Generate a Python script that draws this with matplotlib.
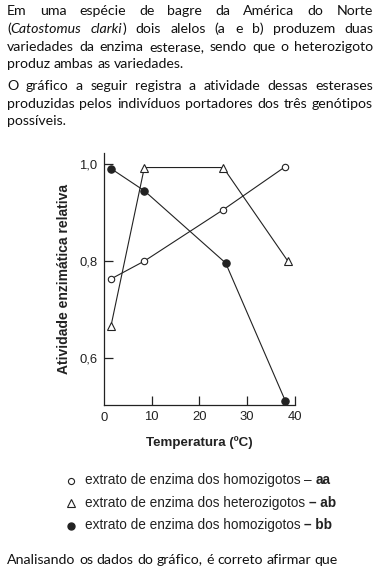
import matplotlib
matplotlib.use("Agg")
import matplotlib.pyplot as plt
from matplotlib.ticker import FixedLocator, FuncFormatter

# ---------------------------------------------------------------------------
# Dados
# ---------------------------------------------------------------------------
temp_aa = [1.5, 8.5, 25.0, 38.0]
ativ_aa = [0.763, 0.800, 0.906, 0.995]

temp_ab = [1.5, 8.5, 25.0, 38.5]
ativ_ab = [0.665, 0.993, 0.993, 0.800]

temp_bb = [1.5, 8.5, 25.5, 38.0]
ativ_bb = [0.991, 0.945, 0.796, 0.511]

x_ticks = [10, 20, 30, 40]
y_ticks = [0.6, 0.8, 1.0]

paragrafo_1 = [
    [("Em", "normal"), ("uma", "normal"), ("espécie", "normal"), ("de", "normal"),
     ("bagre", "normal"), ("da", "normal"), ("América", "normal"), ("do", "normal"),
     ("Norte", "normal")],
    [("(", "normal", ("Catostomus", "italic")), ("clarki", "italic", (")", "normal")),
     ("dois", "normal"), ("alelos", "normal"), ("(a", "normal"), ("e", "normal"),
     ("b)", "normal"), ("produzem", "normal"), ("duas", "normal")],
    [("variedades", "normal"), ("da", "normal"), ("enzima", "normal"), ("esterase,", "normal"),
     ("sendo", "normal"), ("que", "normal"), ("o", "normal"), ("heterozigoto", "normal")],
    [("produz", "normal"), ("ambas", "normal"), ("as", "normal"), ("variedades.", "normal")],
]
paragrafo_2 = [
    [("O", "normal"), ("gráfico", "normal"), ("a", "normal"), ("seguir", "normal"),
     ("registra", "normal"), ("a", "normal"), ("atividade", "normal"), ("dessas", "normal"),
     ("esterases", "normal")],
    [("produzidas", "normal"), ("pelos", "normal"), ("indivíduos", "normal"),
     ("portadores", "normal"), ("dos", "normal"), ("três", "normal"), ("genótipos", "normal")],
    [("possíveis.", "normal")],
]
pergunta = "Analisando os dados do gráfico, é correto afirmar que"

legenda = [
    ("o", "extrato de enzima dos homozigotos ", "– aa", "normal"),
    ("^", "extrato de enzima dos heterozigotos ", "– ab", "bold"),
    ("o_cheio", "extrato de enzima dos homozigotos ", "– bb", "bold"),
]

W, H = 382, 571
TXT_FONT = ["Lato", "DejaVu Sans"]
TXT_SIZE = 10.2
ARIAL = ["Liberation Sans", "DejaVu Sans"]

fig = plt.figure(figsize=(W / 100, H / 100), dpi=100)
renderer = fig.canvas.get_renderer()


def fx(px):
    return px / W


def fy(py):
    return 1 - py / H


def largura(t):
    return t.get_window_extent(renderer).width


def escreve_linha(y, palavras, x0=7, x1=373, justificar=True):
    # cada palavra pode ter pedacos com estilos diferentes (ex.: italico)
    grupos = []
    for p in palavras:
        pedacos = [(p[0], p[1])]
        if len(p) > 2:
            pedacos = [(p[0], p[1]), p[2]]
        grupo = []
        for txt, st in pedacos:
            t = fig.text(0, fy(y), txt, fontsize=TXT_SIZE, family=TXT_FONT,
                         style=st, va="baseline", ha="left", color="#111111")
            grupo.append(t)
        grupos.append(grupo)
    larg = [sum(largura(t) for t in g) for g in grupos]
    esp = fig.text(0, 0, "a a", fontsize=TXT_SIZE, family=TXT_FONT)
    sem = fig.text(0, 0, "aa", fontsize=TXT_SIZE, family=TXT_FONT)
    espaco = largura(esp) - largura(sem)
    esp.remove()
    sem.remove()
    if justificar and len(grupos) > 1:
        espaco = (x1 - x0 - sum(larg)) / (len(grupos) - 1)
    x = x0
    for g, lw in zip(grupos, larg):
        xi = x
        for t in g:
            t.set_x(fx(xi))
            xi += largura(t)
        x += lw + espaco


# ---------------------------------------------------------------------------
# Texto do enunciado
# ---------------------------------------------------------------------------
base_1 = [15, 33, 51, 68.5]
for i, linha in enumerate(paragrafo_1):
    escreve_linha(base_1[i], linha, justificar=(i < len(paragrafo_1) - 1))
base_2 = [90, 107.5, 125]
for i, linha in enumerate(paragrafo_2):
    escreve_linha(base_2[i], linha, justificar=(i < len(paragrafo_2) - 1))
escreve_linha(564, [(w, "normal") for w in pergunta.split()], justificar=False)

# ---------------------------------------------------------------------------
# Grafico
# ---------------------------------------------------------------------------
ax = fig.add_axes([fx(103.7), fy(405), (295 - 103.7) / W, (405 - 153) / H])
cor = "#222222"
kw = dict(color=cor, linewidth=0.8, markeredgecolor=cor, markeredgewidth=0.8)
ax.plot(temp_aa, ativ_aa, marker="o", markersize=4.6, markerfacecolor="white", **kw)
ax.plot(temp_ab, ativ_ab, marker="^", markersize=5.6, markerfacecolor="white", **kw)
ax.plot(temp_bb, ativ_bb, marker="o", markersize=5.3, markerfacecolor=cor, **kw)

ax.set_xlim(0, 40)
ax.set_ylim(0.503, 1.023)
for s in ("top", "right"):
    ax.spines[s].set_visible(False)
for s in ("left", "bottom"):
    ax.spines[s].set_linewidth(0.9)
    ax.spines[s].set_color(cor)

ax.xaxis.set_major_locator(FixedLocator(x_ticks))
ax.yaxis.set_major_locator(FixedLocator(y_ticks))
ax.yaxis.set_major_formatter(FuncFormatter(lambda v, p: f"{v:.1f}".replace(".", ",")))
ax.tick_params(direction="in", length=6.5, width=0.9, color=cor, labelsize=9.4,
               labelcolor=cor, pad=4.5)
for lab in ax.get_xticklabels() + ax.get_yticklabels():
    lab.set_family(ARIAL)
ax.text(0, -0.026, "0", transform=ax.get_xaxis_transform(), ha="center", va="top",
        fontsize=9.4, family=ARIAL, color=cor)

ax.set_xlabel("Temperatura (ºC)", fontsize=9.6, fontweight="bold", family=ARIAL,
              color=cor, labelpad=9)
ax.set_ylabel("Atividade enzimática relativa", fontsize=10, fontweight="bold",
              family=ARIAL, color=cor, labelpad=6)

# ---------------------------------------------------------------------------
# Legenda
# ---------------------------------------------------------------------------
leg_ax = fig.add_axes([0, 0, 1, 1], facecolor="none")
leg_ax.set_xlim(0, W)
leg_ax.set_ylim(H, 0)
leg_ax.axis("off")
base_leg = [484, 506.7, 529]
LEG_SIZE = 9.8
for (mk, txt, sufixo, peso), yb in zip(legenda, base_leg):
    ym = yb - 3.5
    if mk == "o":
        leg_ax.plot([71], [ym], marker="o", markersize=4.4, markerfacecolor="white",
                    markeredgecolor=cor, markeredgewidth=0.8)
    elif mk == "^":
        leg_ax.plot([71], [ym], marker="^", markersize=5.2, markerfacecolor="white",
                    markeredgecolor=cor, markeredgewidth=0.8)
    else:
        leg_ax.plot([71], [ym], marker="o", markersize=5, markerfacecolor=cor,
                    markeredgecolor=cor)
    t1 = fig.text(fx(85), fy(yb), txt, fontsize=LEG_SIZE, family=ARIAL, va="baseline",
                  color=cor)
    x2 = 85 + largura(t1)
    if peso == "normal":
        t2 = fig.text(fx(x2), fy(yb), "– ", fontsize=LEG_SIZE, family=ARIAL,
                      va="baseline", color=cor)
        x3 = x2 + largura(t2)
        fig.text(fx(x3), fy(yb), sufixo[2:], fontsize=LEG_SIZE, family=ARIAL,
                 fontweight="bold", va="baseline", color=cor)
    else:
        fig.text(fx(x2), fy(yb), sufixo, fontsize=LEG_SIZE, family=ARIAL,
                 fontweight="bold", va="baseline", color=cor)

fig.savefig("out.png", dpi=100)
